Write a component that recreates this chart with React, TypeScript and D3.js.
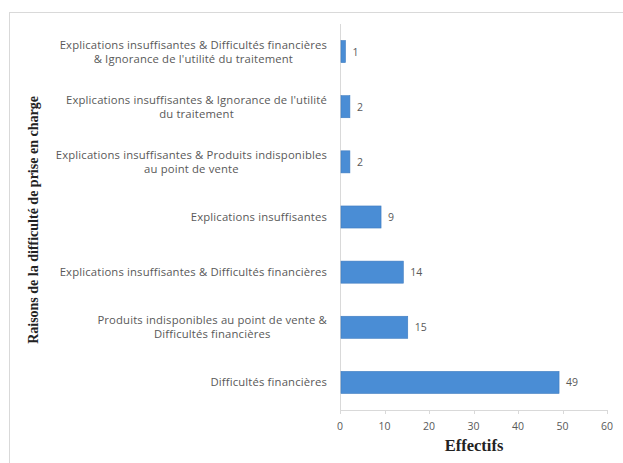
import React, { useEffect, useRef } from "react";
import * as d3 from "d3";

const categories: string[][] = [
  ["Explications insuffisantes & Difficultés financières", "& Ignorance de l'utilité du traitement"],
  ["Explications insuffisantes & Ignorance de l'utilité", "du traitement"],
  ["Explications insuffisantes & Produits indisponibles", "au point de vente"],
  ["Explications insuffisantes"],
  ["Explications insuffisantes & Difficultés financières"],
  ["Produits indisponibles au point de vente &", "Difficultés financières"],
  ["Difficultés financières"],
];
const values: number[] = [1, 2, 2, 9, 14, 15, 49];
const xTicks: number[] = [0, 10, 20, 30, 40, 50, 60];
const yTitle = "Raisons de la difficulté de prise en charge";
const xTitle = "Effectifs";

const W = 623;
const H = 463;
const M = { left: 340, right: 16, top: 24, bottom: 53 };

export default function App() {
  const ref = useRef<SVGSVGElement>(null);
  useEffect(() => {
    const svg = d3.select(ref.current);
    svg.selectAll("*").remove();

    svg.append("rect").attr("x", 9.5).attr("y", 12.5).attr("width", 620).attr("height", 460)
      .attr("fill", "#fff").attr("stroke", "#d9d9d9");

    const x = d3.scaleLinear().domain([0, 60]).range([M.left, W - M.right]);
    const y = d3.scaleBand<number>().domain(d3.range(categories.length)).range([M.top, H - M.bottom]).paddingInner(0.6).paddingOuter(0.3);

    const y0 = H - M.bottom;
    // axes
    svg.append("line").attr("x1", x(0)).attr("x2", x(60)).attr("y1", y0 + 0.5).attr("y2", y0 + 0.5).attr("stroke", "#d9d9d9");
    svg.append("line").attr("x1", x(0) + 0.5).attr("x2", x(0) + 0.5).attr("y1", M.top).attr("y2", y0 + 4).attr("stroke", "#d9d9d9");
    xTicks.forEach((t) => {
      svg.append("line").attr("x1", Math.round(x(t)) + 0.5).attr("x2", Math.round(x(t)) + 0.5).attr("y1", y0).attr("y2", y0 + 4).attr("stroke", "#d9d9d9");
      svg.append("text").attr("x", x(t)).attr("y", y0 + 20).attr("text-anchor", "middle")
        .attr("font-family", "Open Sans").attr("font-size", 10.5).attr("fill", "#595959").text(String(t));
    });

    // bars
    values.forEach((v, i) => {
      const yy = y(i)!;
      svg.append("rect").attr("x", x(0) + 1).attr("y", yy).attr("width", x(v) - x(0)).attr("height", y.bandwidth())
        .attr("fill", "#4a8dd5").attr("stroke", "#3f7cc0").attr("stroke-width", 0.6);
      svg.append("text").attr("x", x(v) + 8).attr("y", yy + y.bandwidth() / 2 + 4)
        .attr("font-family", "Open Sans").attr("font-size", 10.5).attr("fill", "#595959").text(String(v));
    });

    // category labels
    categories.forEach((lines, i) => {
      const cy = y(i)! + y.bandwidth() / 2;
      const g = svg.append("g");
      const lh = 14;
      const texts = lines.map((l, k) =>
        g.append("text").attr("x", 0).attr("y", cy + (k - (lines.length - 1) / 2) * lh + 4)
          .attr("text-anchor", "middle").attr("font-family", "Open Sans").attr("font-size", 11.3)
          .attr("letter-spacing", 0.15).attr("fill", "#595959").text(l)
      );
      const maxW = d3.max(texts, (t) => (t.node() as SVGTextElement).getComputedTextLength()) || 0;
      g.attr("transform", `translate(${327 - maxW / 2},0)`);
    });

    // titles
    svg.append("text").attr("transform", `translate(38,${(M.top + y0) / 2 + 3}) rotate(-90)`).attr("text-anchor", "middle")
      .attr("font-family", "Liberation Serif").attr("font-weight", "bold").attr("font-size", 14).attr("fill", "#222").text(yTitle);
    svg.append("text").attr("x", 474).attr("y", 451).attr("text-anchor", "middle")
      .attr("font-family", "Liberation Serif").attr("font-weight", "bold").attr("font-size", 16.5).attr("fill", "#222").text(xTitle);
  }, []);
  return (
    <svg ref={ref} width={W} height={H} style={{ position: "absolute", left: 0, top: 0 }} />
  );
}
